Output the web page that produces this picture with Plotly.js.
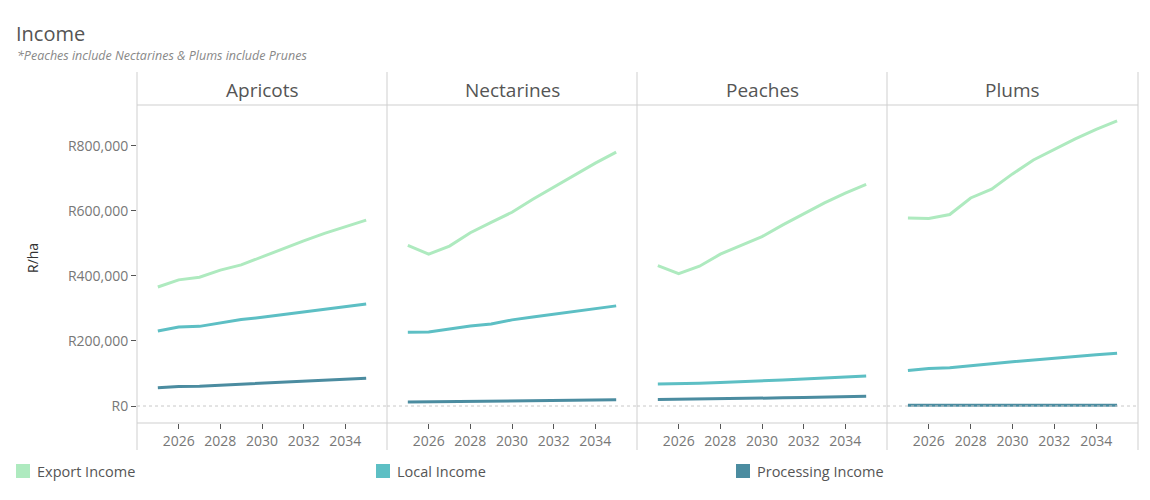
<!DOCTYPE html>
<html>
<head>
<meta charset="utf-8">
<script src="https://cdn.plot.ly/plotly-3.0.1.min.js"></script>
<style>html,body{margin:0;padding:0;background:#fff;}#chart{width:1150px;height:500px;}</style>
</head>
<body>
<div id="chart"></div>
<script>
const years = [2025,2026,2027,2028,2029,2030,2031,2032,2033,2034,2035];
const fruits = ["Apricots","Nectarines","Peaches","Plums"];
const seriesNames = ["Export Income","Local Income","Processing Income"];
const seriesColors = ["#aeeabf","#5dbfc4","#4b8ca0"];

const apricotsExport = [366000,388000,396000,418000,434000,459000,485000,508000,531000,552000,572000];
const apricotsLocal = [231000,243000,245000,256000,266000,273000,281000,289000,297000,306000,314000];
const apricotsProcessing = [56000,60000,61000,64000,67000,70000,73000,76000,79000,82000,85000];

const nectarinesExport = [494000,467000,492000,533000,565000,596000,636000,673000,711000,747000,781000];
const nectarinesLocal = [227000,228000,237000,246000,252000,265000,274000,282000,291000,299000,308000];
const nectarinesProcessing = [12000,12500,13000,13500,14000,15000,15500,16500,17000,18000,19000];

const peachesExport = [432000,407000,430000,467000,494000,521000,557000,591000,625000,655000,682000];
const peachesLocal = [68000,68000,70000,72000,74000,77000,80000,83000,86000,89000,92000];
const peachesProcessing = [20000,20500,21000,22000,23000,24000,25000,26000,27000,28500,30000];

const plumsExport = [578000,577000,589000,640000,667000,714000,757000,790000,822000,851000,877000];
const plumsLocal = [109000,115000,118000,125000,130000,136000,142000,148000,154000,158000,162000];
const plumsProcessing = [2000,2000,2000,2000,2000,2000,2000,2000,2000,2000,2000];

const yTickVals = [0,200000,400000,600000,800000];
const yTickText = ["R0","R200,000","R400,000","R600,000","R800,000"];
const xTickVals = [2026,2028,2030,2032,2034];

const dataByFruit = [
  [apricotsExport, apricotsLocal, apricotsProcessing],
  [nectarinesExport, nectarinesLocal, nectarinesProcessing],
  [peachesExport, peachesLocal, peachesProcessing],
  [plumsExport, plumsLocal, plumsProcessing]
];

const W = 1150, H = 500;
const px = v => v / W;
const py = v => (H - v) / H;
const FONT = "Open Sans, Noto Sans, sans-serif";
const panelLeft = [137,387,637,887];
const panelRight = [387,637,887,1138];

const traces = [];
const layout = {
  width: W, height: H,
  margin: {l:0, r:0, t:0, b:0},
  paper_bgcolor: "#fff", plot_bgcolor: "rgba(0,0,0,0)",
  showlegend: false,
  font: {family: FONT, color: "#666"},
  title: {text: "Income", x: px(16), xanchor: "left", xref: "paper", y: py(34), yanchor: "middle", yref: "paper",
          font: {family: FONT, size: 20, color: "#555"}},
  annotations: [], shapes: []
};

fruits.forEach((f, i) => {
  const ax = i === 0 ? "" : String(i + 1);
  dataByFruit[i].forEach((vals, s) => {
    traces.push({
      type: "scatter", mode: "lines", x: years, y: vals, name: seriesNames[s],
      xaxis: "x" + ax, yaxis: "y" + ax,
      line: {color: seriesColors[s], width: 3}, hoverinfo: "x+y+name"
    });
  });
  layout["xaxis" + ax] = {
    domain: [px(panelLeft[i]), px(panelRight[i])], anchor: "y" + ax,
    range: [2024, 2036], tickvals: xTickVals, ticks: "outside", ticklen: 5, tickcolor: "#555",
    showgrid: false, zeroline: false, showline: false, automargin: false,
    tickfont: {family: FONT, size: 14, color: "#777"}
  };
  layout["yaxis" + ax] = {
    domain: [py(423), py(105)], anchor: "x" + ax,
    range: [-52300, 926000], tickvals: yTickVals, ticktext: yTickText,
    showticklabels: i === 0, ticks: i === 0 ? "outside" : "", ticklen: 5, tickcolor: "#555",
    showgrid: false, zeroline: false, showline: false, automargin: false,
    tickfont: {family: FONT, size: 14, color: "#777"}
  };
  if (i > 0) layout["yaxis" + ax].matches = "y";
  layout.shapes.push({type: "line", xref: "x" + ax + " domain", yref: "y" + ax, x0: 0, x1: 1, y0: 0, y1: 0,
                      line: {color: "#c8c8c8", width: 1, dash: "dot"}});
  layout.annotations.push({text: f, xref: "paper", yref: "paper", x: px((panelLeft[i] + panelRight[i]) / 2), y: py(90),
                           xanchor: "center", yanchor: "middle", showarrow: false,
                           font: {family: FONT, size: 19, color: "#555"}});
});

// panel frame lines
[137,387,637,887,1138].forEach(x => {
  layout.shapes.push({type: "line", xref: "paper", yref: "paper", x0: px(x), x1: px(x), y0: py(450), y1: py(72),
                      line: {color: "#cfcfcf", width: 1}});
});
[105,423].forEach(y => {
  layout.shapes.push({type: "line", xref: "paper", yref: "paper", x0: px(137), x1: px(1138), y0: py(y), y1: py(y),
                      line: {color: "#cfcfcf", width: 1}});
});

layout.annotations.push({text: "<i>*Peaches include Nectarines & Plums include Prunes</i>", xref: "paper", yref: "paper",
  x: px(15), y: py(56), xanchor: "left", yanchor: "middle", showarrow: false,
  font: {family: FONT, size: 12.5, color: "#888"}});
layout.annotations.push({text: "R/ha", xref: "paper", yref: "paper", x: px(32), y: py(258), textangle: -90,
  xanchor: "center", yanchor: "middle", showarrow: false, font: {family: FONT, size: 14, color: "#333"}});

// legend
const legendX = [16, 376, 736];
seriesNames.forEach((n, s) => {
  layout.shapes.push({type: "rect", xref: "paper", yref: "paper", x0: px(legendX[s]), x1: px(legendX[s] + 14),
                      y0: py(478), y1: py(464), fillcolor: seriesColors[s], line: {width: 0}});
  layout.annotations.push({text: n, xref: "paper", yref: "paper", x: px(legendX[s] + 19), y: py(471),
                           xanchor: "left", yanchor: "middle", showarrow: false,
                           font: {family: FONT, size: 14.5, color: "#555"}});
});

Plotly.newPlot("chart", traces, layout, {displayModeBar: false, staticPlot: false});
</script>
</body>
</html>
